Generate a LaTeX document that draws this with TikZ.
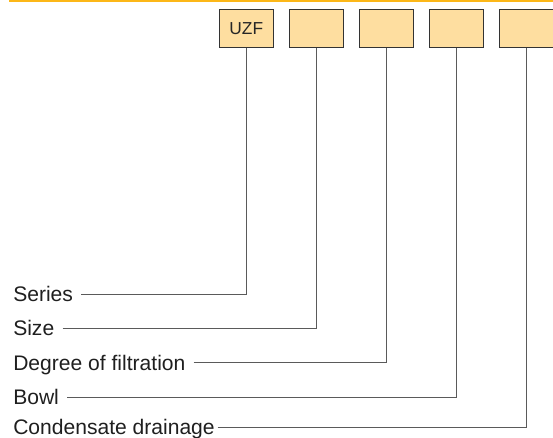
\documentclass[tikz,border=0pt]{standalone}
\usepackage{fontspec}
\setmainfont{Liberation Sans}
\usetikzlibrary{positioning}
\definecolor{ruleorange}{RGB}{252,183,24}
\definecolor{codefill}{RGB}{254,222,160}
\definecolor{leadgray}{RGB}{90,90,90}
\tikzstyle{codebox} = [rectangle, draw=black!80, fill=codefill, line width=0.75pt, minimum width=40.5pt, minimum height=28.5pt, inner sep=0pt, font=\fontsize{13}{15}\selectfont, text=black!85]
\tikzstyle{fieldname} = [anchor=west, inner sep=0pt, text height=11.3pt, text depth=0pt, font=\fontsize{15.8}{18}\selectfont, text=black!88]
\tikzstyle{leader} = [draw=leadgray, line width=0.75pt, shorten <=6pt]

\begin{document}
\begin{tikzpicture}[x=0.75pt, y=-0.75pt, node distance=11.25pt]
        \useasboundingbox (0,0) rectangle (553,438);
        % Top rule
        \coordinate (rulestart) at (9,1);
        \coordinate (ruleend) at (553,1);
        \draw [ruleorange, line width=1.6pt] (rulestart) -- (ruleend);

        % Code boxes
        \node [codebox] (series) at (246.3,28.8) {UZF};
        \node [codebox, right=of series] (size) {};
        \node [codebox, right=of size] (filtration) {};
        \node [codebox, right=of filtration] (bowl) {};
        \node [codebox, right=of bowl] (drainage) {};

        % Field names
        \node [fieldname] (seriestxt) at (13,294) {Series};
        \node [fieldname] (sizetxt) at (13,328) {Size};
        \node [fieldname] (filtrationtxt) at (13,362.5) {Degree of filtration};
        \node [fieldname] (bowltxt) at (13,397) {Bowl};
        \node [fieldname] (drainagetxt) at (13,427) {Condensate drainage};

        % Leaders
        \path [leader] (seriestxt.east) -| (series.south);
        \path [leader] (sizetxt.east) -| (size.south);
        \path [leader] (filtrationtxt.east) -| (filtration.south);
        \path [leader] (bowltxt.east) -| (bowl.south);
        \path [leader, shorten <=2pt] (drainagetxt.east) -| (drainage.south);
    \end{tikzpicture}
\end{document}
